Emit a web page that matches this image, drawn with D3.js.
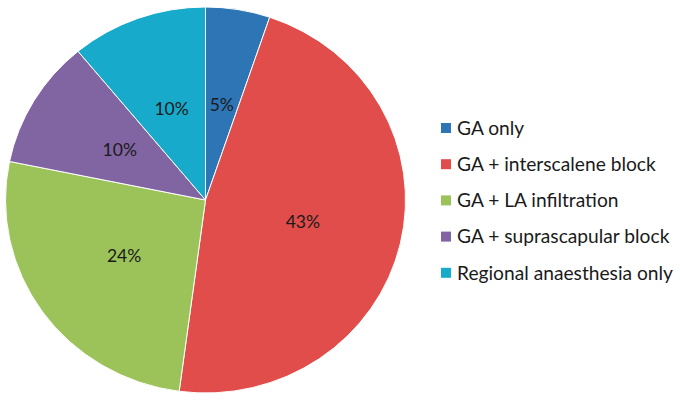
<!DOCTYPE html>
<html>
<head>
<meta charset="utf-8">
<script src="https://cdn.jsdelivr.net/npm/d3@7"></script>
<style>
  body { margin: 0; background: #fff; }
  text { font-family: Lato, "Open Sans", sans-serif; }
</style>
</head>
<body>
<script>
// slice data (angles), labels as printed
let categories = ["GA only", "GA + interscalene block", "GA + LA infiltration", "GA + suprascapular block", "Regional anaesthesia only"];
let values = [5.2, 46.9, 26.1, 10.8, 11.0];
let pctLabels = ["5%", "43%", "24%", "10%", "10%"];
let colors = ["#2e75b6", "#e04d4b", "#9bc35a", "#8164a2", "#18aacb"];

let width = 680, height = 401;
let cx = 205.5, cy = 200, r = 200, sy = 193 / 200;

let svg = d3.select("body").append("svg")
  .attr("width", width)
  .attr("height", height);

let pie = d3.pie().sort(null).value(d => d);
let arcs = pie(values);
let arc = d3.arc().innerRadius(0).outerRadius(r);
let labelArc = d3.arc().innerRadius(100).outerRadius(100);

let g = svg.append("g")
  .attr("transform", "translate(" + cx + "," + cy + ") scale(1," + sy + ")");

g.selectAll("path")
  .data(arcs)
  .enter().append("path")
  .attr("d", arc)
  .attr("fill", (d, i) => colors[i])
  .attr("stroke", "#fff")
  .attr("stroke-width", 1);

svg.append("g")
  .selectAll("text")
  .data(arcs)
  .enter().append("text")
  .attr("x", d => cx + labelArc.centroid(d)[0])
  .attr("y", d => cy + labelArc.centroid(d)[1] * sy)
  .attr("dy", "0.35em")
  .attr("text-anchor", "middle")
  .style("font-size", "17.5px")
  .style("fill", "#1a1a1a")
  .text((d, i) => pctLabels[i]);

// legend
let legend = svg.append("g").attr("transform", "translate(441,128)");
let rows = legend.selectAll("g")
  .data(categories)
  .enter().append("g")
  .attr("transform", (d, i) => "translate(0," + i * 36.2 + ")");

rows.append("rect")
  .attr("x", 0).attr("y", -5)
  .attr("width", 10).attr("height", 10)
  .attr("fill", (d, i) => colors[i]);

rows.append("text")
  .attr("x", 16)
  .attr("dy", "0.35em")
  .style("font-size", "19.2px")
  .style("fill", "#1a1a1a")
  .text(d => d);
</script>
</body>
</html>
